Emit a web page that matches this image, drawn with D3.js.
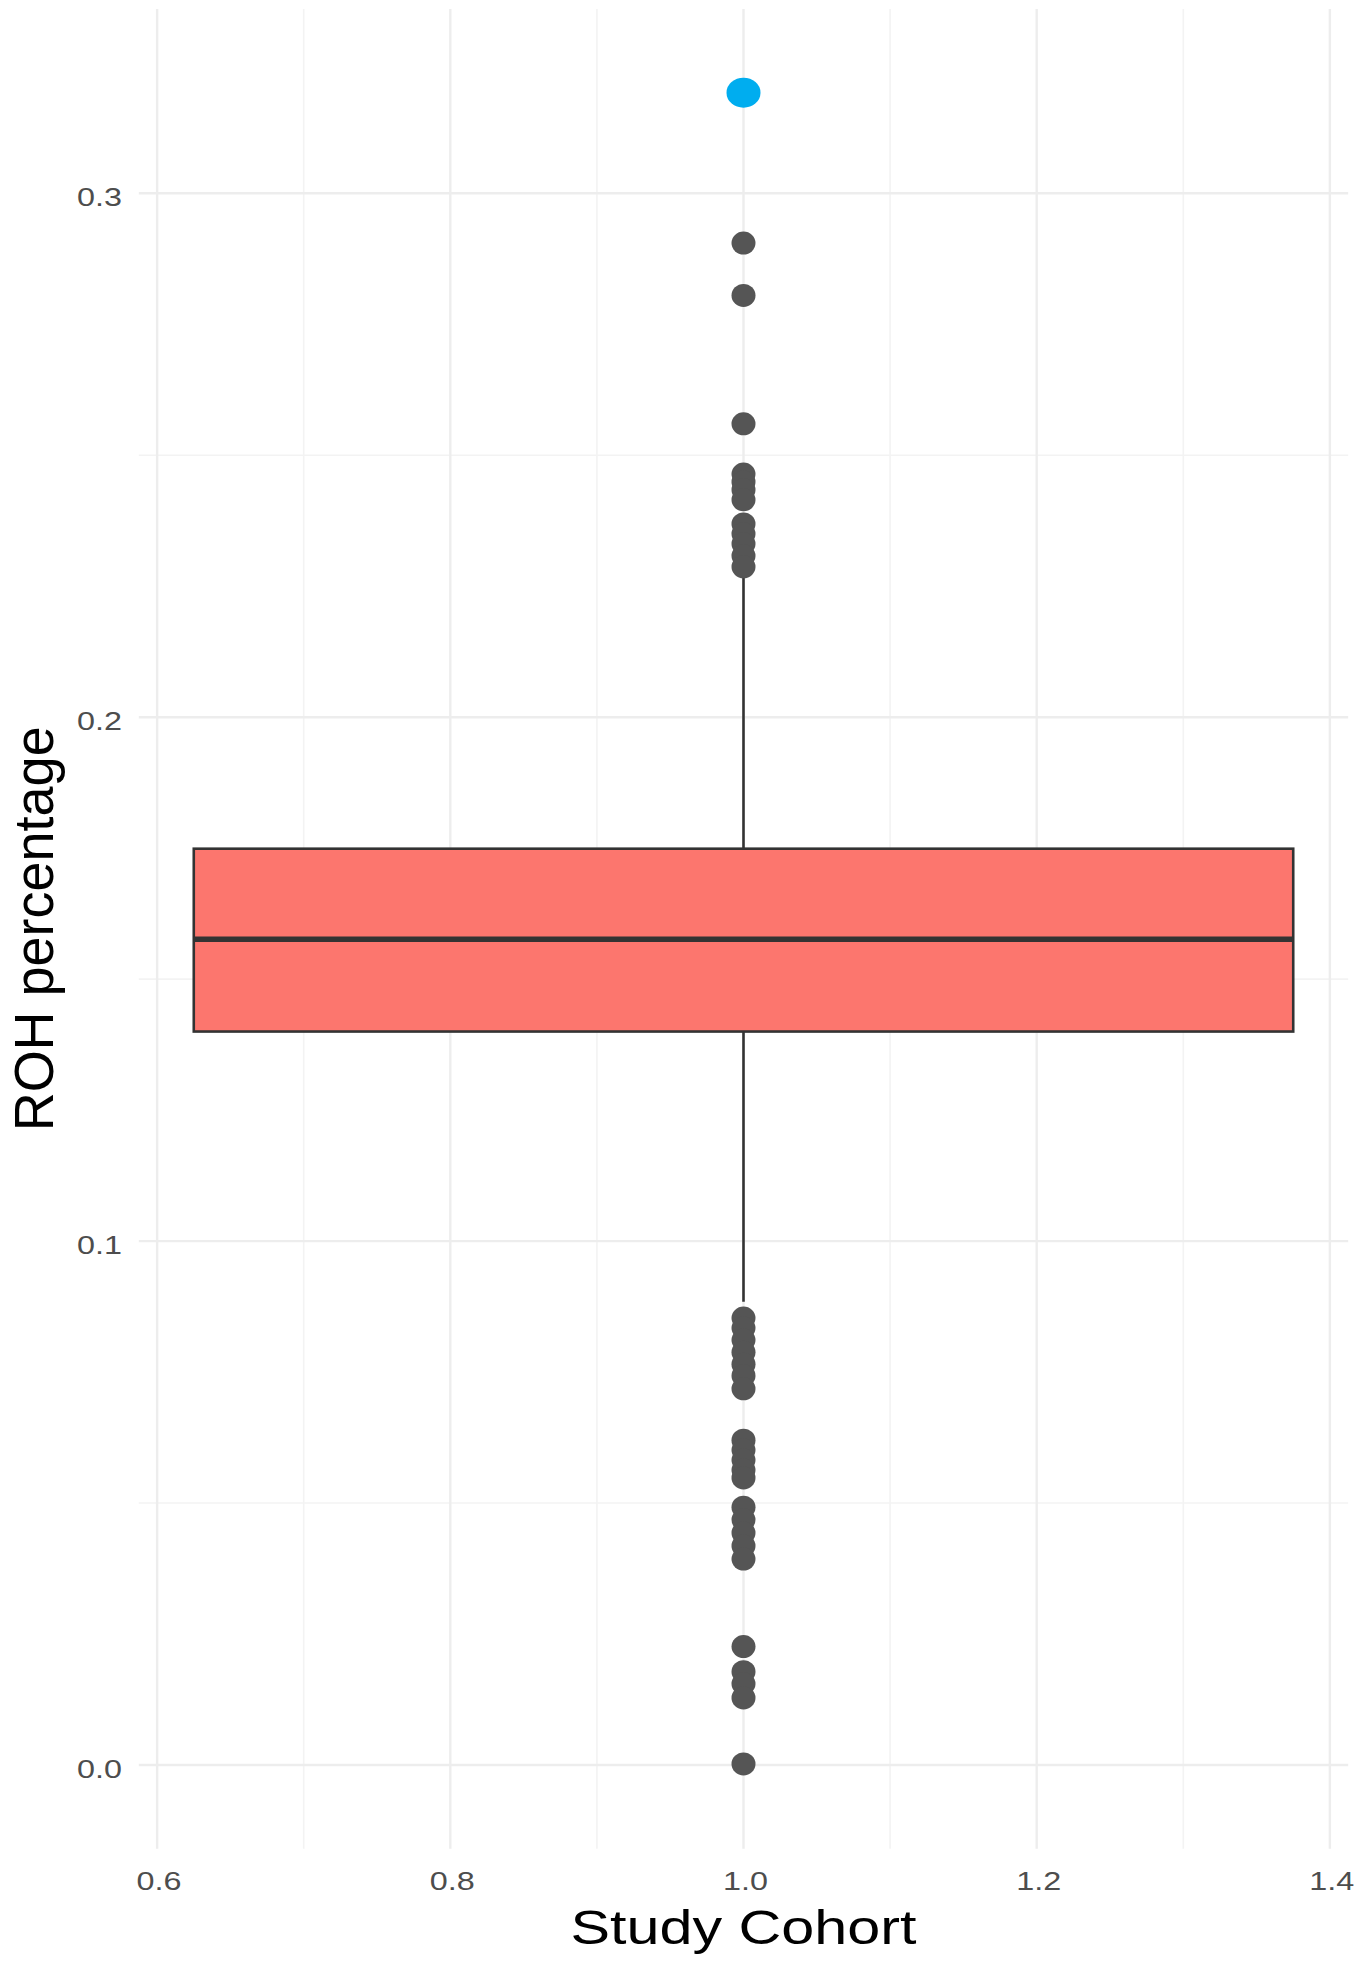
<!DOCTYPE html>
<html>
<head>
<meta charset="utf-8">
<script src="https://cdn.jsdelivr.net/npm/d3@7"></script>
<style>
  html, body { margin: 0; padding: 0; background: #ffffff; }
  svg { display: block; }
</style>
</head>
<body>
<script>
// ---------------- data ----------------
const xTicks = [0.6, 0.8, 1.0, 1.2, 1.4];
const xMinorTicks = [0.7, 0.9, 1.1, 1.3];
const yTicks = [0.0, 0.1, 0.2, 0.3];
const yMinorTicks = [0.05, 0.15, 0.25];
const xTickLabels = ["0.6", "0.8", "1.0", "1.2", "1.4"];
const yTickLabels = ["0.0", "0.1", "0.2", "0.3"];

const groupPosition = 1.0;
const boxWidth = 0.75;
// box statistics: [lower whisker, Q1, median, Q3, upper whisker]
const boxStats = [0.0884, 0.1400, 0.1576, 0.1749, 0.2266];

const upperOutliers = [0.2905, 0.2805, 0.2560,
  0.2464, 0.2449, 0.2434, 0.2415, 0.2369, 0.2350, 0.2331, 0.2308, 0.2287];
const lowerOutliers = [0.0853, 0.0834, 0.0811, 0.0788, 0.0765, 0.0743, 0.0718,
  0.0620, 0.0601, 0.0582, 0.0563, 0.0548,
  0.0492, 0.0468, 0.0443, 0.0418, 0.0393,
  0.0226, 0.0178, 0.0155, 0.0128, 0.0002];
const highlighted = [0.3192];

const xTitle = "Study Cohort";
const yTitle = "ROH percentage";

// ---------------- drawing ----------------
const W = 1363, H = 1970;
const svg = d3.select("body").append("svg").attr("width", W).attr("height", H);

const x = d3.scaleLinear().domain([0.5875, 1.4125]).range([138.8, 1348.2]);
const y = d3.scaleLinear().domain([-0.016, 0.3352]).range([1848.8, 8.9]);
const [px0, px1] = x.range();
const [py1, py0] = y.range();

const grid = svg.append("g");
// minor grid
grid.selectAll(".vminor").data(xMinorTicks).join("line")
  .attr("x1", d => x(d)).attr("x2", d => x(d)).attr("y1", py0).attr("y2", py1)
  .attr("stroke", "#f3f3f3").attr("stroke-width", 1.6);
grid.selectAll(".hminor").data(yMinorTicks).join("line")
  .attr("y1", d => y(d)).attr("y2", d => y(d)).attr("x1", px0).attr("x2", px1)
  .attr("stroke", "#f3f3f3").attr("stroke-width", 1.6);
// major grid
grid.selectAll(".vmajor").data(xTicks).join("line")
  .attr("x1", d => x(d)).attr("x2", d => x(d)).attr("y1", py0).attr("y2", py1)
  .attr("stroke", "#ededed").attr("stroke-width", 2.4);
grid.selectAll(".hmajor").data(yTicks).join("line")
  .attr("y1", d => y(d)).attr("y2", d => y(d)).attr("x1", px0).attr("x2", px1)
  .attr("stroke", "#ededed").attr("stroke-width", 2.4);

// whiskers
const cx = x(groupPosition);
const bx = svg.append("g");
bx.append("line").attr("x1", cx).attr("x2", cx)
  .attr("y1", y(boxStats[4])).attr("y2", y(boxStats[3]))
  .attr("stroke", "#333333").attr("stroke-width", 2.6);
bx.append("line").attr("x1", cx).attr("x2", cx)
  .attr("y1", y(boxStats[1])).attr("y2", y(boxStats[0]))
  .attr("stroke", "#333333").attr("stroke-width", 2.6);
// box
bx.append("rect")
  .attr("x", x(groupPosition - boxWidth / 2))
  .attr("width", x(groupPosition + boxWidth / 2) - x(groupPosition - boxWidth / 2))
  .attr("y", y(boxStats[3]))
  .attr("height", y(boxStats[1]) - y(boxStats[3]))
  .attr("fill", "#FC766E").attr("stroke", "#333333").attr("stroke-width", 2.6);
// median
bx.append("line")
  .attr("x1", x(groupPosition - boxWidth / 2)).attr("x2", x(groupPosition + boxWidth / 2))
  .attr("y1", y(boxStats[2])).attr("y2", y(boxStats[2]))
  .attr("stroke", "#333333").attr("stroke-width", 5.5);

// outliers
const outliers = upperOutliers.concat(lowerOutliers);
svg.append("g").selectAll("ellipse").data(outliers).join("ellipse")
  .attr("cx", cx).attr("cy", d => y(d)).attr("rx", 12).attr("ry", 11.5)
  .attr("fill", "#555555");
svg.append("g").selectAll("ellipse").data(highlighted).join("ellipse")
  .attr("cx", cx).attr("cy", d => y(d)).attr("rx", 17).attr("ry", 15)
  .attr("fill", "#00ADEF");

// axis labels
const font = "'Liberation Sans', Arial, Helvetica, sans-serif";
svg.append("g").selectAll("text").data(yTicks).join("text")
  .attr("x", 122).attr("y", d => y(d) + 13)
  .attr("text-anchor", "end")
  .attr("font-family", font).attr("font-size", 26).attr("fill", "#4d4d4d")
  .attr("textLength", 45).attr("lengthAdjust", "spacingAndGlyphs")
  .text((d, i) => yTickLabels[i]);
svg.append("g").selectAll("text").data(xTicks).join("text")
  .attr("x", d => x(d) + 2).attr("y", 1890)
  .attr("text-anchor", "middle")
  .attr("font-family", font).attr("font-size", 26).attr("fill", "#4d4d4d")
  .attr("textLength", 45).attr("lengthAdjust", "spacingAndGlyphs")
  .text((d, i) => xTickLabels[i]);

// titles
svg.append("text")
  .attr("x", cx).attr("y", 1944).attr("text-anchor", "middle")
  .attr("font-family", font).attr("font-size", 48).attr("fill", "#000")
  .attr("textLength", 346).attr("lengthAdjust", "spacingAndGlyphs")
  .text(xTitle);
svg.append("text")
  .attr("transform", `translate(53, ${(py0 + py1) / 2}) rotate(-90)`)
  .attr("text-anchor", "middle")
  .attr("font-family", font).attr("font-size", 56).attr("fill", "#000")
  .attr("textLength", 405).attr("lengthAdjust", "spacingAndGlyphs")
  .text(yTitle);
</script>
</body>
</html>
